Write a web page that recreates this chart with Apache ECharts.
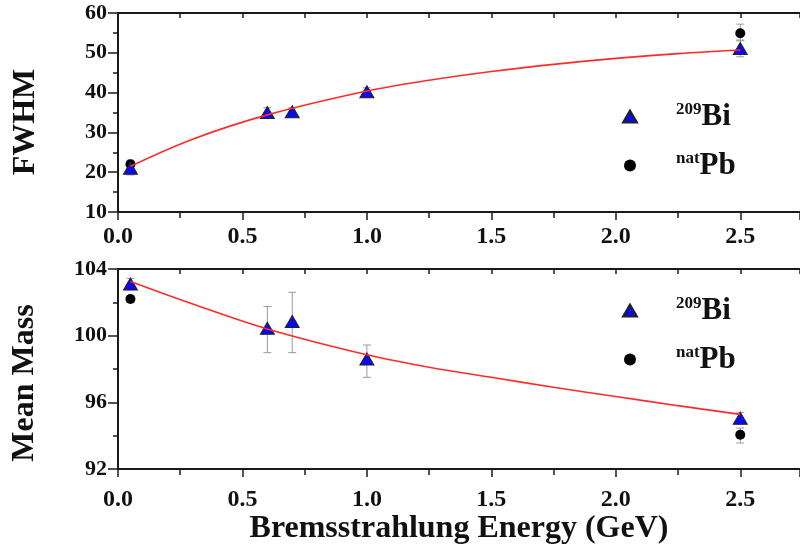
<!DOCTYPE html>
<html>
<head>
<meta charset="utf-8">
<title>FWHM / Mean Mass</title>
<script src="https://cdn.jsdelivr.net/npm/echarts@6/dist/echarts.min.js"></script>
<style>
  * { margin: 0; padding: 0; }
  body { background: #fff; }
</style>
</head>
<body>
<div id="main" style="width: 800px; height: 554px;"></div>
<script>
  // energies (GeV)
  let energyBi = [0.05, 0.6, 0.7, 1.0, 2.5];
  let energyPb = [0.05, 2.5];
  let fitX = [0.05, 0.3, 0.6, 1.0, 1.25, 1.5, 1.75, 2.0, 2.25, 2.5];

  // FWHM panel
  let fwhmBi = [21.0, 35.0, 35.2, 40.2, 51.1];
  let fwhmBiLow = [19.3, 33.8, 34.2, 39.2, 49.0];
  let fwhmBiHigh = [22.7, 36.2, 36.2, 41.2, 53.2];
  let fwhmPb = [22.0, 54.9];
  let fwhmPbLow = [21.0, 53.0];
  let fwhmPbHigh = [23.0, 57.2];
  let fwhmFit = [21.5, 28.3, 34.4, 40.4, 43.1, 45.3, 47.1, 48.6, 49.8, 50.7];

  // Mean mass panel
  let massBi = [103.1, 100.45, 100.85, 98.6, 95.05];
  let massBiLow = [102.75, 98.98, 98.98, 97.5, 94.7];
  let massBiHigh = [103.44, 101.75, 102.6, 99.44, 95.4];
  let massPb = [102.2, 94.05];
  let massPbLow = [102.0, 93.56];
  let massPbHigh = [102.4, 94.46];
  let massFit = [103.25, 101.9, 100.4, 98.85, 98.1, 97.5, 96.9, 96.35, 95.8, 95.28];

  let font = "'Liberation Serif', 'Times New Roman', serif";
  let axisColor = "#1a1a1a";

  function pairs(xs, ys) {
    return xs.map(function (x, i) { return [x, ys[i]]; });
  }
  function triples(xs, lo, hi) {
    return xs.map(function (x, i) { return [x, lo[i], hi[i]]; });
  }

  // error bars with caps
  function errorBar(params, api) {
    let x = api.value(0);
    let lo = api.coord([x, api.value(1)]);
    let hi = api.coord([x, api.value(2)]);
    let w = 4;
    let st = { stroke: "#9a9a9a", lineWidth: 1 };
    return {
      type: "group",
      children: [
        { type: "line", shape: { x1: lo[0], y1: lo[1], x2: hi[0], y2: hi[1] }, style: st },
        { type: "line", shape: { x1: lo[0] - w, y1: lo[1], x2: lo[0] + w, y2: lo[1] }, style: st },
        { type: "line", shape: { x1: hi[0] - w, y1: hi[1], x2: hi[0] + w, y2: hi[1] }, style: st }
      ]
    };
  }

  function bottomX(gridIndex, margin, name) {
    return {
      gridIndex: gridIndex, type: "value", position: "bottom",
      min: 0, max: 2.74, interval: 0.5,
      name: name || "", nameLocation: "middle", nameGap: 41,
      nameTextStyle: { fontFamily: font, fontWeight: "bold", fontSize: 32, color: "#111" },
      axisLine: { lineStyle: { color: axisColor, width: 2 } },
      axisTick: { inside: false, length: 8, lineStyle: { color: axisColor, width: 1.5 } },
      minorTick: { show: true, splitNumber: 2, length: 6, lineStyle: { color: axisColor, width: 1.5 } },
      splitLine: { show: false },
      axisLabel: {
        margin: margin, showMaxLabel: false,
        fontFamily: font, fontWeight: "bold", fontSize: 24, color: "#111",
        formatter: function (v) { return v.toFixed(1); }
      }
    };
  }
  function topX(gridIndex) {
    return {
      gridIndex: gridIndex, type: "value", position: "top",
      min: 0, max: 2.74, interval: 0.25,
      axisLine: { lineStyle: { color: axisColor, width: 2 } },
      axisTick: { inside: true, length: 5, lineStyle: { color: axisColor, width: 1.5 } },
      splitLine: { show: false },
      axisLabel: { show: false }
    };
  }
  function leftY(gridIndex, min, max, interval) {
    return {
      gridIndex: gridIndex, type: "value", position: "left",
      min: min, max: max, interval: interval,
      axisLine: { show: true, lineStyle: { color: axisColor, width: 2 } },
      axisTick: { show: true, inside: false, length: 10, lineStyle: { color: axisColor, width: 1.5 } },
      minorTick: { show: true, splitNumber: 2, length: 5, lineStyle: { color: axisColor, width: 1.5 } },
      splitLine: { show: false },
      axisLabel: { margin: 11, fontFamily: font, fontWeight: "bold", fontSize: 22, color: "#111" }
    };
  }
  function rightY(gridIndex, min, max, interval) {
    return {
      gridIndex: gridIndex, type: "value", position: "right",
      min: min, max: max, interval: interval,
      axisLine: { show: true, lineStyle: { color: axisColor, width: 2 } },
      axisTick: { show: true, inside: true, length: 10, lineStyle: { color: axisColor, width: 1.5 } },
      minorTick: { show: true, splitNumber: 2, length: 5, lineStyle: { color: axisColor, width: 1.5 } },
      splitLine: { show: false },
      axisLabel: { show: false }
    };
  }

  function legendAt(top) {
    return {
      orient: "vertical", left: 617, top: top,
      itemWidth: 14, itemHeight: 12, itemGap: 18,
      data: [{ name: "209Bi", icon: "triangle" }, { name: "natPb", icon: "circle" }],
      selectedMode: false,
      formatter: function (name) {
        if (name === "209Bi") return "{gap|}{sup|209}{big|Bi}";
        return "{gap|}{sup|nat}{big|Pb}";
      },
      textStyle: {
        rich: {
          gap: { width: 34 },
          sup: { fontFamily: font, fontWeight: "bold", fontSize: 17, color: "#111", padding: [0, 0, 14, 0] },
          big: { fontFamily: font, fontWeight: "bold", fontSize: 31, color: "#111", lineHeight: 30 }
        }
      }
    };
  }

  function panelSeries(k, bi, biLo, biHi, pb, pbLo, pbHi, fit) {
    let xi = k * 2, yi = k * 2;
    return [
      {
        type: "custom", xAxisIndex: xi, yAxisIndex: yi, z: 1,
        renderItem: errorBar, encode: { x: 0, y: [1, 2] },
        data: triples(energyBi, biLo, biHi)
      },
      {
        type: "custom", xAxisIndex: xi, yAxisIndex: yi, z: 1,
        renderItem: errorBar, encode: { x: 0, y: [1, 2] },
        data: triples(energyPb, pbLo, pbHi)
      },
      {
        name: "natPb", type: "scatter", xAxisIndex: xi, yAxisIndex: yi, z: 3,
        symbol: "circle", symbolSize: 10,
        itemStyle: { color: "#000", opacity: 1 },
        data: pairs(energyPb, pb)
      },
      {
        name: "209Bi", type: "scatter", xAxisIndex: xi, yAxisIndex: yi, z: 4,
        symbol: "triangle", symbolSize: [14, 12],
        itemStyle: { color: "#0a0aee", borderColor: "#222", borderWidth: 1, opacity: 1 },
        data: pairs(energyBi, bi)
      },
      {
        type: "line", xAxisIndex: xi, yAxisIndex: yi, z: 5,
        smooth: 0.35, showSymbol: false, silent: true,
        lineStyle: { color: "#ff2a2a", width: 1.6 },
        data: pairs(fitX, fit)
      }
    ];
  }

  let myChart = echarts.init(document.getElementById("main"));
  let option = {
    backgroundColor: "#fff",
    animation: false,
    grid: [
      { left: 118, right: -3, top: 13, height: 199 },
      { left: 118, right: -3, top: 269, height: 200 }
    ],
    xAxis: [bottomX(0, 13), topX(0), bottomX(1, 19, "Bremsstrahlung Energy (GeV)"), topX(1)],
    yAxis: [leftY(0, 10, 60, 10), rightY(0, 10, 60, 10), leftY(1, 92, 104, 4), rightY(1, 92, 104, 4)],
    legend: [legendAt(96), legendAt(290)],
    graphic: [
      {
        type: "text", x: 26, y: 122, rotation: Math.PI / 2,
        style: { text: "FWHM", fontFamily: font, fontWeight: "bold", fontSize: 32, fill: "#111", align: "center", verticalAlign: "middle" }
      },
      {
        type: "text", x: 25, y: 383, rotation: Math.PI / 2,
        style: { text: "Mean Mass", fontFamily: font, fontWeight: "bold", fontSize: 32, fill: "#111", align: "center", verticalAlign: "middle" }
      }
    ],
    series: panelSeries(0, fwhmBi, fwhmBiLow, fwhmBiHigh, fwhmPb, fwhmPbLow, fwhmPbHigh, fwhmFit)
      .concat(panelSeries(1, massBi, massBiLow, massBiHigh, massPb, massPbLow, massPbHigh, massFit))
  };
  myChart.setOption(option);
</script>
</body>
</html>
